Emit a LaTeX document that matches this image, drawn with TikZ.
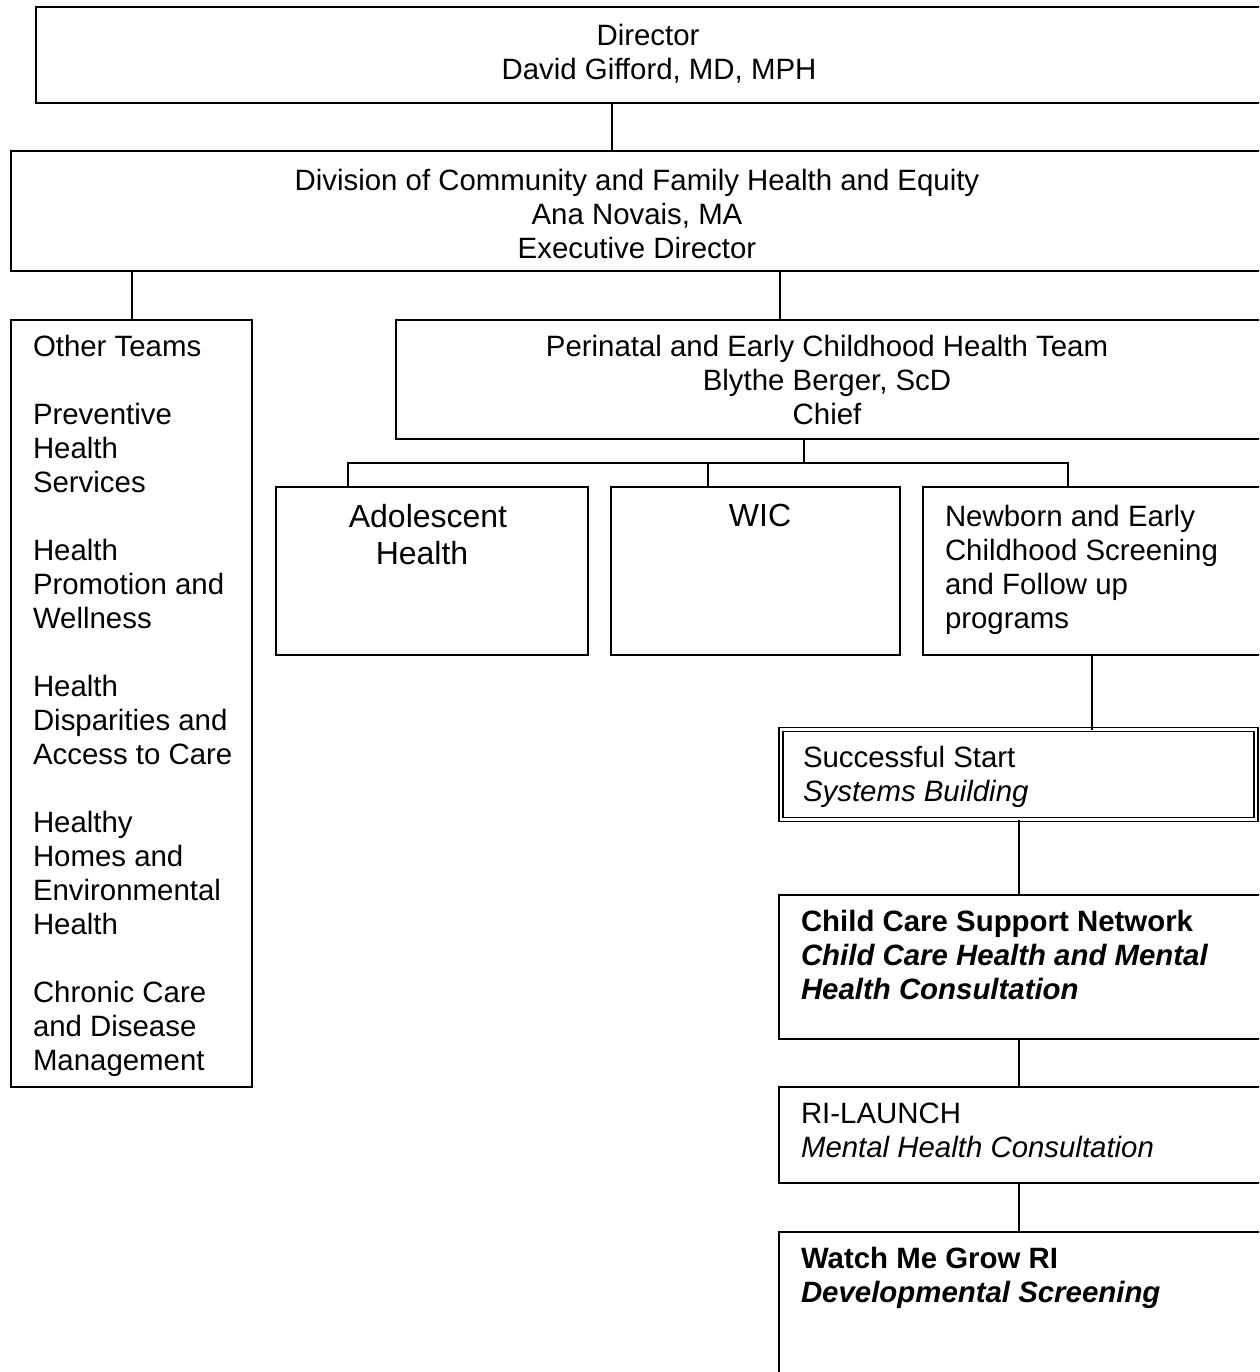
\documentclass[tikz,border=0pt]{standalone}
\usepackage{fontspec}
\setmainfont{Liberation Sans}
\begin{document}
\begin{tikzpicture}[x=1pt,y=-1pt,
  box/.style={draw=black,line width=1.4pt,rectangle,inner sep=0pt,outer sep=0pt,anchor=north west},
  dbox/.style={box,double,double distance=2.4pt,line width=1.5pt},
  txt/.style={inner sep=0pt,outer sep=0pt,font=\fontsize{29.4pt}{34pt}\selectfont},
  bigtxt/.style={inner sep=0pt,outer sep=0pt,font=\fontsize{32pt}{36.5pt}\selectfont},
  conn/.style={line width=1.3pt}]
\useasboundingbox (0,0) rectangle (1259,1372);
\clip (0,0) rectangle (1259,1372);
\fill[white] (0,0) rectangle (1259,1372);

% boxes
\node[box,minimum width=1300pt,minimum height=96pt] (director) at (36,7) {};
\node[box,minimum width=1300pt,minimum height=120pt] (division) at (11,151) {};
\node[box,minimum width=241pt,minimum height=767pt] (other) at (11,320) {};
\node[box,minimum width=1000pt,minimum height=119pt] (peri) at (396,320) {};
\node[box,minimum width=312pt,minimum height=168pt] (adol) at (276,487) {};
\node[box,minimum width=289pt,minimum height=168pt] (wic) at (611,487) {};
\node[box,minimum width=500pt,minimum height=168pt] (newb) at (923,487) {};
\node[dbox,minimum width=475pt,minimum height=90pt] (succ) at (781,729.5) {};
\node[box,minimum width=600pt,minimum height=144pt] (child) at (779,895) {};
\node[box,minimum width=600pt,minimum height=96pt] (ri) at (779,1087) {};
\node[box,minimum width=600pt,minimum height=300pt] (watch) at (779,1232) {};

% texts
\node[txt,align=center,anchor=north] (directorT) at (659,24.5) {Director\rule{22pt}{0pt}\\David Gifford, MD, MPH};
\node[txt,align=center,anchor=north] (divisionT) at (637,169.5) {Division of Community and Family Health and Equity\\Ana Novais, MA\\Executive Director};
\node[txt,align=left,anchor=north west] (otherT) at (33,335.5) {Other Teams\\[34pt]
Preventive\\Health\\Services\\[34pt]
Health\\Promotion and\\Wellness\\[34pt]
Health\\Disparities and\\Access to Care\\[34pt]
Healthy\\Homes and\\Environmental\\Health\\[34pt]
Chronic Care\\and Disease\\Management};
\node[txt,align=center,anchor=north] (periT) at (827,335.5) {Perinatal and Early Childhood Health Team\\Blythe Berger, ScD\\Chief};
\node[bigtxt,align=center,anchor=north] (adolT) at (428,504.5) {Adolescent\\Health\rule{12pt}{0pt}};
\node[bigtxt,anchor=north] (wicT) at (760,504.5) {WIC};
\node[txt,align=left,anchor=north west] (newbT) at (945,505.5) {Newborn and Early\\Childhood Screening\\and Follow up\\programs};
\node[txt,align=left,anchor=north west] (succT) at (803,746.5) {Successful Start\\\textit{Systems Building}};
\node[txt,align=left,anchor=north west] (childT) at (801,910.5) {\textbf{Child Care Support Network}\\\textbf{\textit{Child Care Health and Mental}}\\\textbf{\textit{Health Consultation}}};
\node[txt,align=left,anchor=north west] (riT) at (801,1102.5) {RI-LAUNCH\\\textit{Mental Health Consultation}};
\node[txt,align=left,anchor=north west] (watchT) at (801,1247.5) {\textbf{Watch Me Grow RI}\\\textbf{\textit{Developmental Screening}}};

% connector coordinates
\coordinate (c1) at (612,0);
\coordinate (c2) at (132,0);
\coordinate (c3) at (780,0);
\coordinate (c4) at (804,0);
\coordinate (ca) at (348,463);
\coordinate (cw) at (708,463);
\coordinate (cn) at (1068,463);
\coordinate (c5) at (1092,0);
\coordinate (c6) at (1019,0);

\draw[conn] (director.south -| c1) -- (division.north -| c1);
\draw[conn] (division.south -| c2) -- (other.north -| c2);
\draw[conn] (division.south -| c3) -- (peri.north -| c3);
\draw[conn] (peri.south -| c4) -- (ca -| c4);
\draw[conn] (adol.north -| ca) -- (ca) -- (cn) -- (newb.north -| cn);
\draw[conn] (cw) -- (wic.north -| cw);
\draw[conn] (newb.south -| c5) -- (succ.north -| c5);
\draw[conn] (succ.south -| c6) -- (child.north -| c6);
\draw[conn] (child.south -| c6) -- (ri.north -| c6);
\draw[conn] (ri.south -| c6) -- (watch.north -| c6);
\end{tikzpicture}
\end{document}
